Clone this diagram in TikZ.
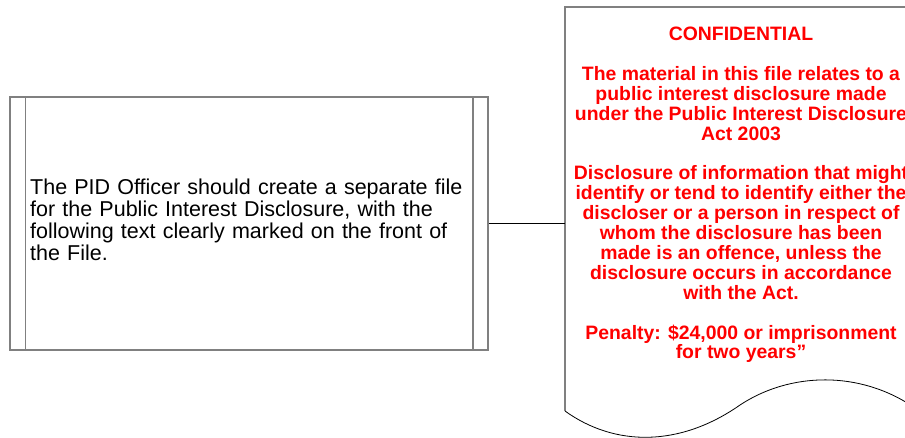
\documentclass[tikz,border=0pt]{standalone}
\usepackage{fontspec}
\setmainfont{Liberation Sans}
\definecolor{lineGray}{RGB}{128, 128, 128}
\definecolor{warnRed}{RGB}{255, 0, 0}
\usetikzlibrary{positioning, calc}

\begin{document}
\begin{tikzpicture}[
  x=1pt, y=-1pt,
  procbox/.style={draw=lineGray, line width=1.5pt, minimum width=478pt, minimum height=253pt, inner sep=0pt},
  bar/.style={draw=lineGray, line width=1.5pt},
  link/.style={draw=black, line width=0.8pt},
  docline/.style={line width=1.5pt, lineGray},
  wave/.style={line width=0.8pt, black}
]
  \useasboundingbox (0,0) rectangle (905,437);

  % left process box
  \node[procbox] (pid) at (249, 223.5) {};
  \draw[bar] ($(pid.north west)+(16,0)$) -- ($(pid.south west)+(16,0)$);
  \draw[bar] ($(pid.north east)+(-16,0)$) -- ($(pid.south east)+(-16,0)$);
  \node[anchor=west, align=left, text width=440pt, inner sep=0pt,
        font=\fontsize{21.5}{22}\selectfont] (pidtext) at (30, 219.5)
    {The PID Officer should create a separate file for the Public Interest Disclosure, with the following text clearly marked on the front of the File.};

  % document shape on the right
  \coordinate (docin) at (565, 223.5);
  \draw[docline] (565, 411) -- (565, 7) -- (915, 7) -- (915, 411);
  \draw[wave] (565, 411) .. controls (615, 447) and (680, 447) .. (740, 405)
    .. controls (790, 372) and (860, 370) .. (915, 408);
  \node[align=center, text=warnRed, inner sep=0pt,
        font=\fontsize{19.4}{19.9}\selectfont\bfseries] (conf) at (741, 195)
    {CONFIDENTIAL\\[19.9pt]
     The material in this file relates to a\\
     public interest disclosure made\\
     under the Public Interest Disclosure\\
     Act 2003\\[19.9pt]
     Disclosure of information that might\\
     identify or tend to identify either the\\
     discloser or a person in respect of\\
     whom the disclosure has been\\
     made is an offence, unless the\\
     disclosure occurs in accordance\\
     with the Act.\\[19.9pt]
     Penalty: \$24,000 or imprisonment\\
     for two years”};

  \draw[link] (pid.east) -- (docin);
\end{tikzpicture}
\end{document}
